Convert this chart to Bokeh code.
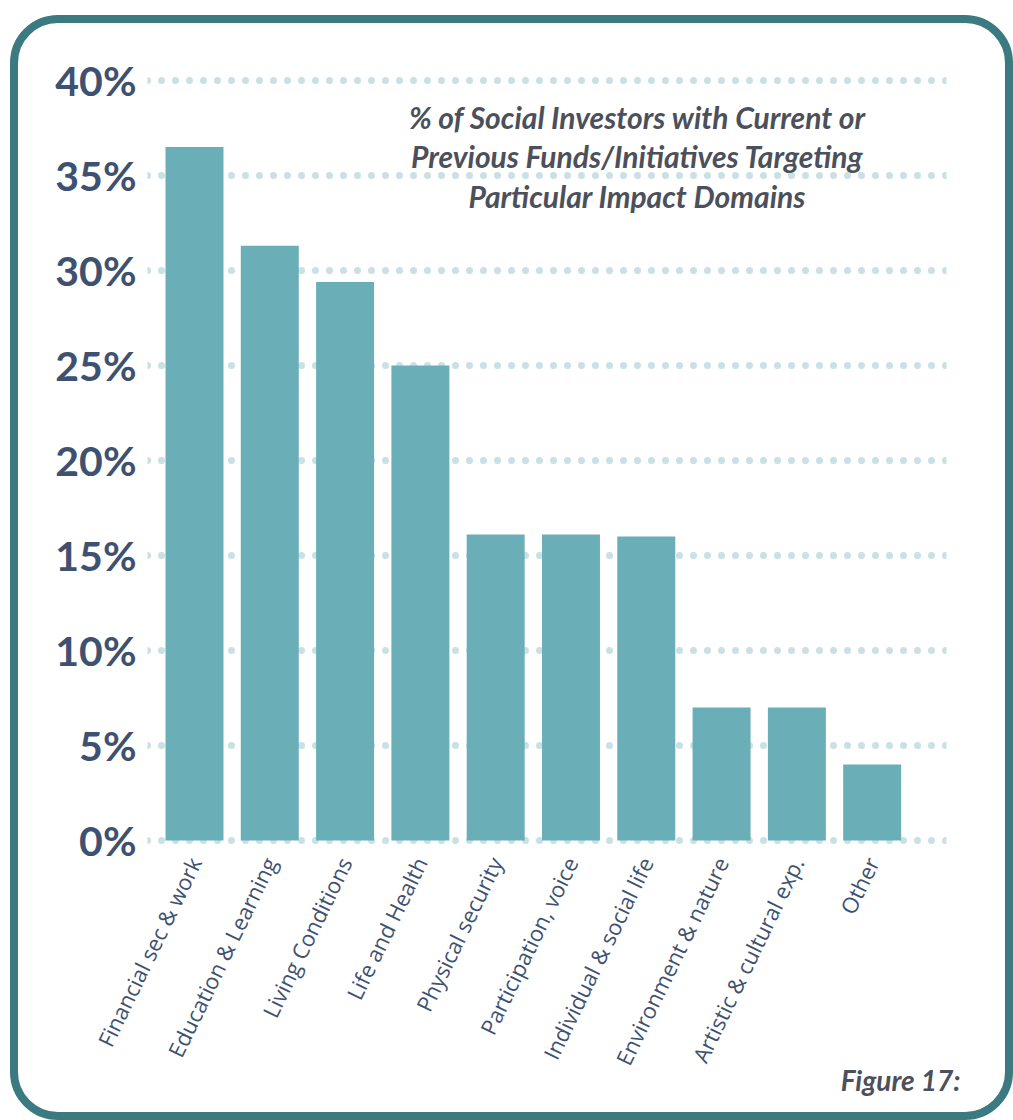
from bokeh.plotting import figure
from bokeh.layouts import column
from bokeh.models import Range1d, FixedTicker, PrintfTickFormatter, Label, Title, ColumnDataSource
from bokeh.embed import file_html
from bokeh.resources import INLINE
import math

categories = ["Financial sec & work", "Education & Learning", "Living Conditions",
              "Life and Health", "Physical security", "Participation, voice",
              "Individual & social life", "Environment & nature",
              "Artistic & cultural exp.", "Other"]
values = [36.5, 31.3, 29.4, 25.0, 16.1, 16.1, 16.0, 7.0, 7.0, 4.0]
y_ticks = [0, 5, 10, 15, 20, 25, 30, 35, 40]
title_text = "% of Social Investors with Current or\nPrevious Funds/Initiatives Targeting\nParticular Impact Domains"
figure_note = "Figure 17:"

BAR = "#6aafb8"
BORDER = "#3b7a80"
GRID = "#c9e0e4"
NAVY = "#3e5170"
GREY = "#4b505b"

src = ColumnDataSource(dict(x=list(range(len(categories))), top=values))

p = figure(width=987, height=1081, output_backend="svg", toolbar_location=None,
           x_range=Range1d(-0.624, 9.987), y_range=Range1d(-0.421, 40.526),
           min_border_left=129, min_border_right=59, min_border_top=47, min_border_bottom=256)
p.border_fill_alpha = 0
p.background_fill_color = "white"
p.outline_line_color = None

p.vbar(x="x", top="top", bottom=0, width=0.77, source=src, color=BAR, line_color=None)

# grids
p.xgrid.visible = False
p.ygrid.ticker = FixedTicker(ticks=y_ticks)
p.ygrid.grid_line_color = GRID
p.ygrid.grid_line_width = 7
p.ygrid.grid_line_dash = "0 14"
p.ygrid.grid_line_cap = "round"

# y axis
ya = p.yaxis[0]
ya.ticker = FixedTicker(ticks=y_ticks)
ya.formatter = PrintfTickFormatter(format="%d%%")
ya.axis_line_color = None
ya.major_tick_line_color = None
ya.minor_tick_line_color = None
ya.major_label_text_font = "Lato"
ya.major_label_text_font_style = "bold"
ya.major_label_text_font_size = "41px"
ya.major_label_text_color = NAVY
ya.major_label_standoff = 5

# x axis
xa = p.xaxis[0]
xa.ticker = FixedTicker(ticks=list(range(len(categories))))
xa.major_label_overrides = {i: c for i, c in enumerate(categories)}
xa.axis_line_color = None
xa.major_tick_line_color = None
xa.minor_tick_line_color = None
xa.major_label_orientation = math.radians(64)
xa.major_label_text_font = "Open Sans"
xa.major_label_text_font_size = "22px"
xa.major_label_text_color = NAVY
xa.major_label_standoff = 4

p.add_layout(Label(x=5.88, y=36.0, text=title_text, text_align="center", text_baseline="middle",
                   text_font="Lato", text_font_style="bold italic", text_font_size="30px",
                   text_color=GREY, text_line_height=1.1))

note = Title(text=figure_note, align="right", offset=-14, standoff=-60, vertical_align="middle",
             text_font="Lato", text_font_style="bold italic", text_font_size="28px", text_color=GREY)
p.add_layout(note, "below")

wrap = column(p, width=1003, height=1105, margin=(15, 0, 0, 10),
              styles={"border": f"8px solid {BORDER}", "border-radius": "48px",
                      "box-sizing": "border-box", "overflow": "hidden", "background": "white"})

open("out.html", "w").write(file_html(wrap, INLINE))
